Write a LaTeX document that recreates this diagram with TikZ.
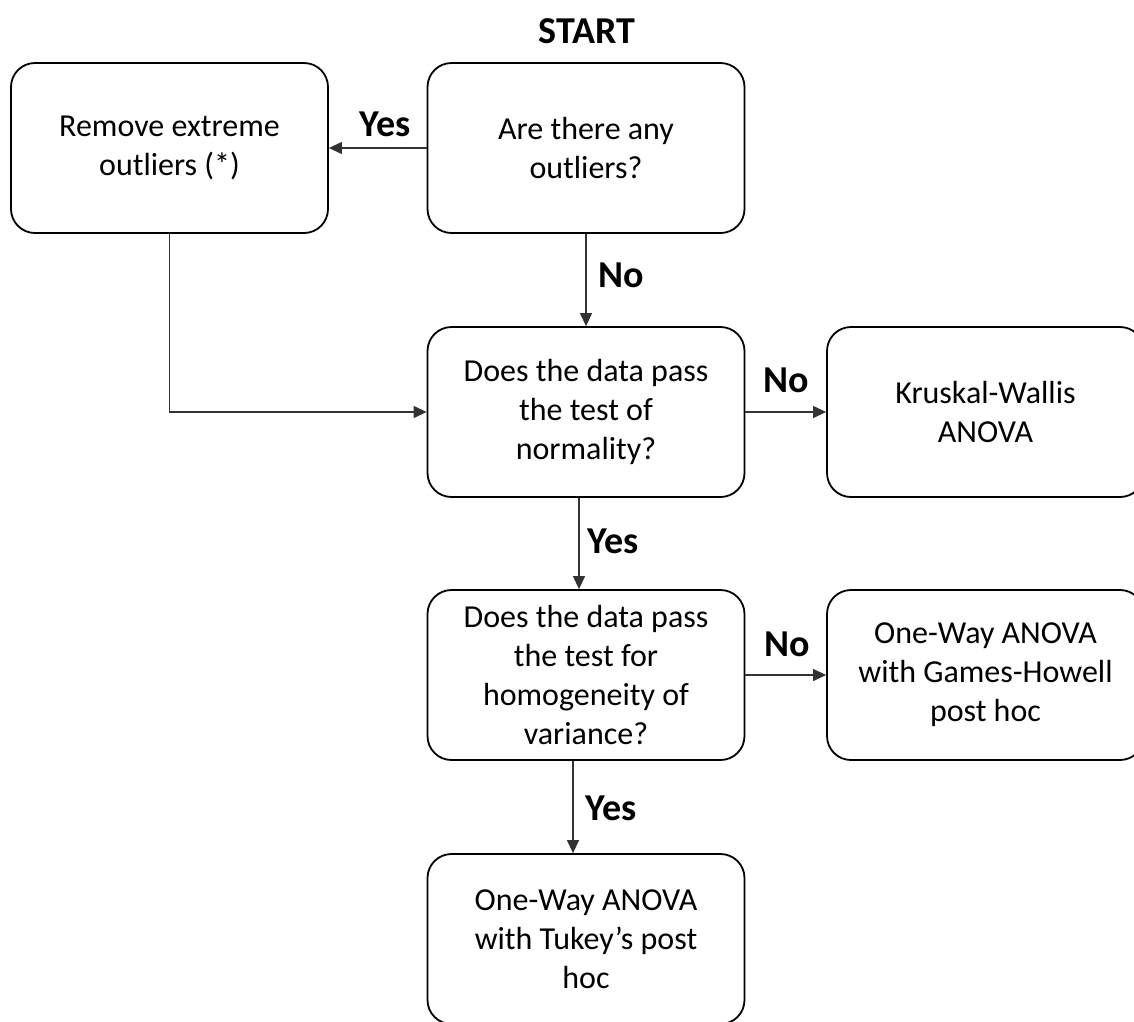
\documentclass[tikz,border=0pt]{standalone}
\usepackage{fontspec}
\setmainfont{Carlito}
\usetikzlibrary{arrows.meta,calc}
\tikzset{
  box/.style={draw=black, line width=1.8pt, rounded corners=24pt, minimum width=317pt,
    minimum height=170pt, inner sep=0pt, align=center,
    font=\fontsize{32}{39}\selectfont},
  conn/.style={draw=black!80, line width=1.2pt, -{Triangle[length=13pt,width=12pt]}},
  lbl/.style={font=\fontsize{38}{44}\bfseries\selectfont, inner sep=0pt},
}
\begin{document}
\begin{tikzpicture}[x=1pt,y=-1pt]
\useasboundingbox (0,0) rectangle (1134,1021);
\node[lbl] (start) at (587,31) {START};
\node[box] (remove) at (169.5,148) {Remove extreme\\outliers (*)};
\node[box] (outl) at (586,148) {Are there any\\outliers?};
\node[box] (norm) at (586,412) {Does the data pass\\the test of\\normality?};
\node[box] (krus) at (985.5,412) {Kruskal-Wallis\\ANOVA};
\node[box] (homog) at (586,675) {Does the data pass\\the test for\\homogeneity of\\variance?};
\node[box] (games) at (985.5,675) {One-Way ANOVA\\with Games-Howell\\post hoc};
\node[box] (tukey) at (586,939) {One-Way ANOVA\\with Tukey’s post\\hoc};
\draw[conn] (outl.west) -- (remove.east);
\draw[conn] (outl.south) -- (norm.north);
\draw[conn] (remove.south) |- (norm.west);
\draw[conn] (norm.east) -- (krus.west);
\draw[conn] ([xshift=-7pt]norm.south) -- ([xshift=-7pt]homog.north);
\draw[conn] (homog.east) -- (games.west);
\draw[conn] ([xshift=-13pt]homog.south) -- ([xshift=-13pt]tukey.north);
\node[lbl] (l1) at (385,124) {Yes};
\node[lbl] (l2) at (621,275) {No};
\node[lbl] (l3) at (786,380) {No};
\node[lbl] (l4) at (613,541) {Yes};
\node[lbl] (l5) at (787,644) {No};
\node[lbl] (l6) at (611,808) {Yes};
\end{tikzpicture}
\end{document}
